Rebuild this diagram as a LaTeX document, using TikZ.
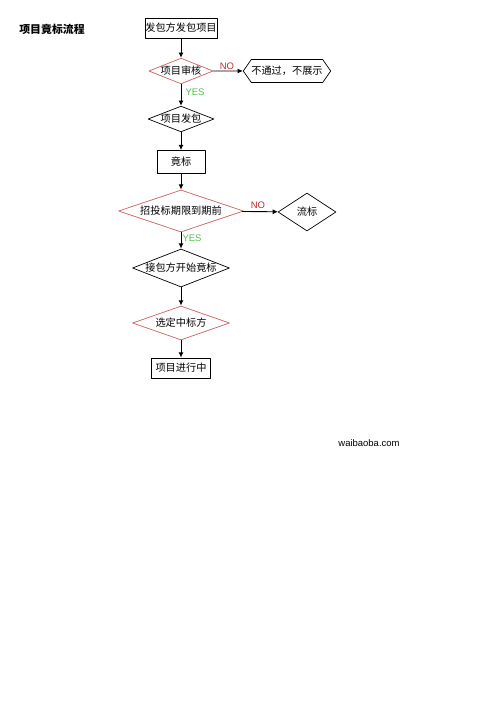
\documentclass[tikz,border=0pt]{standalone}
\usepackage{fontspec}
\newfontfamily\cjk{Noto Sans CJK SC}
\newfontfamily\lat{Liberation Sans}
\usetikzlibrary{arrows.meta,shapes.geometric,shapes.symbols}
\definecolor{redline}{RGB}{205,95,95}
\definecolor{notext}{RGB}{190,45,45}
\definecolor{yestext}{RGB}{80,190,80}
\tikzset{
	txt/.style={font=\cjk\fontsize{5.8}{7}\selectfont},
	sz/.style 2 args={minimum width=#1*0.02cm,minimum height=#2*0.02cm},
	boxnode/.style={txt,draw,line width=0.4pt,inner sep=0pt},
	dia/.style={txt,draw,diamond,line width=0.4pt,inner sep=0pt,aspect=2.5},
	reddia/.style={dia,draw=redline},
	lbl/.style={font=\lat\fontsize{5.4}{6}\selectfont}
}
\begin{document}
\begin{tikzpicture}[line cap=round,line join=round,>={Latex[length=3pt,width=2.8pt]},x=0.02cm,y=-0.02cm]
	\useasboundingbox (0,0) rectangle (500,707);
	% title
	\node[txt,font=\cjk\bfseries\fontsize{6.2}{7}\selectfont] (title) at (52,29) {项目竟标流程};
	% main column
	\node[boxnode,line width=0.5pt,sz={72}{20}] (fabao) at (181,28) {发包方发包项目};
	\node[reddia,sz={64}{22}] (shenhe) at (181,71) {项目审核};
	\node[boxnode,signal,signal to=west and east,signal pointer angle=110,sz={85}{23}] (buzhan) at (287,71) {不通过，不展示};
	\node[dia,sz={66}{24}] (xmfb) at (181,119) {项目发包};
	\node[boxnode,sz={48}{23}] (jingbiao) at (181,162) {竟标};
	\node[reddia,sz={125}{37}] (qixian) at (181,211) {招投标期限到期前};
	\node[dia,sz={58}{38}] (liubiao) at (307,212) {流标};
	\node[dia,sz={97}{37}] (kaishi) at (181,268) {接包方开始竟标};
	\node[reddia,sz={97}{34}] (xuanding) at (181,323) {选定中标方};
	\node[boxnode,sz={59}{20}] (jinxing) at (181,368) {项目进行中};
	% connectors
	\draw[->,line width=0.5pt] (fabao) -- (shenhe);
	\draw[->,line width=0.5pt] (shenhe) -- (buzhan);
	\draw[->,line width=0.5pt] (shenhe) -- (xmfb);
	\draw[->,line width=0.5pt] (xmfb) -- (jingbiao);
	\draw[->,line width=0.5pt] (jingbiao) -- (qixian);
	\draw[->,line width=0.5pt] (qixian) -- (liubiao);
	\draw[->,line width=0.5pt] (qixian) -- (kaishi);
	\draw[->,line width=0.5pt] (kaishi) -- (xuanding);
	\draw[->,line width=0.5pt] (xuanding) -- (jinxing);
	% labels
	\node[lbl,text=notext] (no1) at (227,66) {NO};
	\node[lbl,text=yestext] (yes1) at (195,92) {YES};
	\node[lbl,text=notext] (no2) at (258,205) {NO};
	\node[lbl,text=yestext] (yes2) at (192,238) {YES};
	\node[lbl] (site) at (369,443) {waibaoba.com};
\end{tikzpicture}
\end{document}
